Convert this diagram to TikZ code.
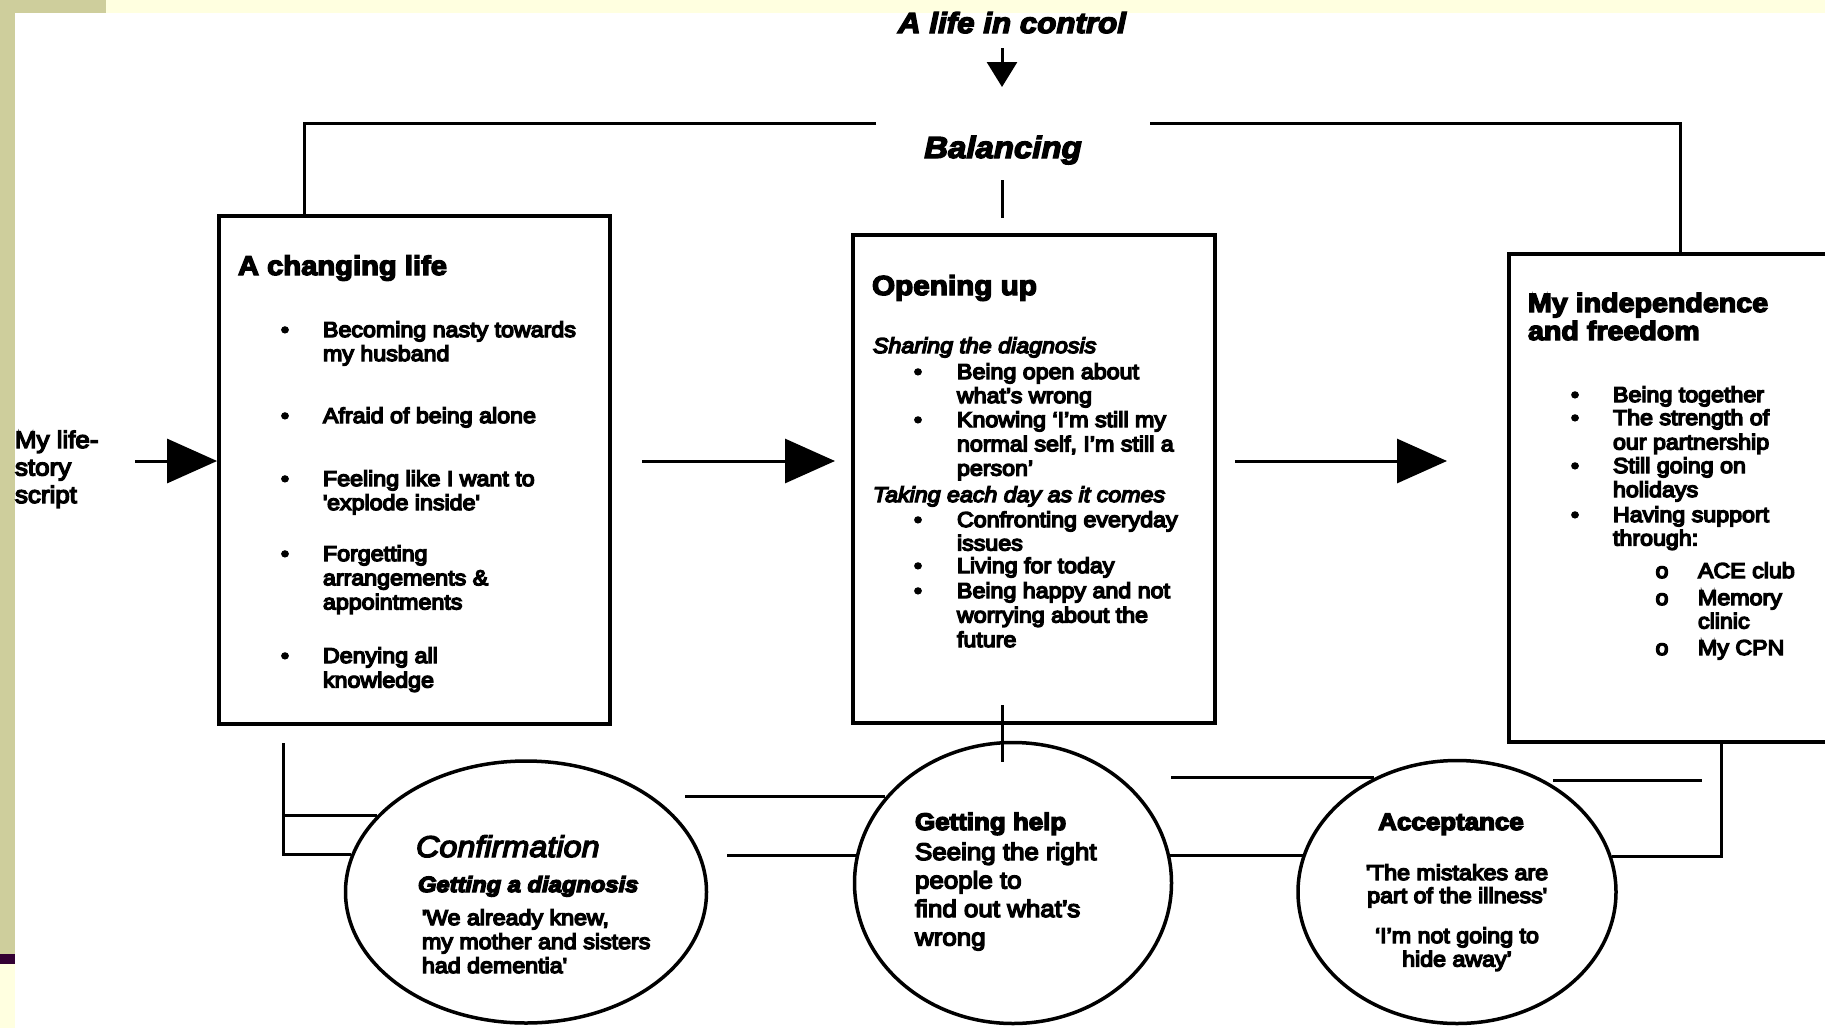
\documentclass[tikz,border=0pt]{standalone}
\usepackage{fontspec}
\setmainfont{Liberation Sans}[FakeStretch=1.08]
\usetikzlibrary{shapes.geometric, arrows.meta}
\definecolor{olivebar}{RGB}{206,206,156}
\definecolor{paleyel}{RGB}{255,255,224}
\definecolor{darkpurp}{RGB}{51,0,51}
\newcommand{\myheavy}{\special{pdf:literal direct 2 Tr 1.4 w}}
\newcommand{\mytb}[3]{\parbox[t]{500pt}{\fontsize{#1}{#2}\selectfont #3}}
\newcommand{\mytc}[3]{\parbox[t]{400pt}{\centering\fontsize{#1}{#2}\selectfont #3}}
\begin{document}
\begin{tikzpicture}[x=1pt,y=-1pt,
  txt/.style={inner sep=0pt, outer sep=0pt, anchor=base west, execute at begin node=\myheavy},
  bul/.style={inner sep=0pt, anchor=base, font=\fontsize{21.5}{24}\selectfont, execute at begin node=\myheavy},
  box/.style={draw=black, line width=3.8pt, rectangle, inner sep=0pt, fill=white},
  ell/.style={draw=black, line width=3.5pt, ellipse, inner sep=0pt, fill=white},
  conn/.style={draw=black, line width=3pt},
  arr/.style={draw=black, line width=3pt, -{Triangle[length=50pt,width=44pt]}}
]
\useasboundingbox (0,0) rectangle (1825,1028);
\clip (0,0) rectangle (1825,1028);
% background
\fill[white] (0,0) rectangle (1825,1028);
\fill[paleyel] (0,0) rectangle (1825,13);
\fill[olivebar] (0,0) rectangle (106,13);
\fill[olivebar] (0,0) rectangle (15,954);
\fill[darkpurp] (0,954) rectangle (15,964);
\fill[paleyel] (0,964) rectangle (15,1028);

% top titles
\node[txt, anchor=base] (lic) at (1012,33) {\fontsize{29}{32}\selectfont\bfseries\itshape A life in control};
\node[txt, anchor=base] (bal) at (1003,158) {\fontsize{30.5}{33}\selectfont\bfseries\itshape Balancing};

% boxes
\node[box, minimum width=391pt, minimum height=508pt] (lbox) at (414.5,470) {};
\node[box, minimum width=362pt, minimum height=488pt] (mbox) at (1034,479) {};
\node[box, minimum width=391pt, minimum height=488pt] (rbox) at (1704.5,498) {};

% ellipses
\node[ell, minimum width=361pt, minimum height=262pt] (conf) at (526,892) {};
\node[ell, minimum width=317pt, minimum height=281pt] (help) at (1013,883) {};
\node[ell, minimum width=318pt, minimum height=263pt] (acc) at (1457,892) {};

% life story
\node[txt] (ls) at (15,448) {\mytb{24}{27.5}{My life-\\story\\script}};

% left box text
\node[txt] (lh) at (238,275) {\fontsize{27}{30}\selectfont\bfseries A changing life};
\node[bul] (lb1) at (285,337) {•};
\node[bul] (lb2) at (285,423) {•};
\node[bul] (lb3) at (285,486) {•};
\node[bul] (lb4) at (285,561) {•};
\node[bul] (lb5) at (285,663) {•};
\node[txt] (lt1) at (323,337) {\mytb{21.5}{24}{Becoming nasty towards\\my husband}};
\node[txt] (lt2) at (323,423) {\mytb{21.5}{24}{Afraid of being alone}};
\node[txt] (lt3) at (323,486) {\mytb{21.5}{24}{Feeling like I want to\\\textquotesingle explode inside\textquotesingle}};
\node[txt] (lt4) at (323,561) {\mytb{21.5}{24.2}{Forgetting\\arrangements \&\\appointments}};
\node[txt] (lt5) at (323,663) {\mytb{21.5}{24.5}{Denying all\\knowledge}};

% middle box text
\node[txt] (mh) at (872,295) {\fontsize{27.5}{30}\selectfont\bfseries Opening up};
\node[txt] (ms1) at (873,353) {\fontsize{21.5}{24}\selectfont\itshape Sharing the diagnosis};
\node[txt] (ms2) at (873,502) {\fontsize{21.5}{24}\selectfont\itshape Taking each day as it comes};
\node[bul] (mb1) at (918,379) {•};
\node[bul] (mb2) at (918,427) {•};
\node[bul] (mb3) at (918,527) {•};
\node[bul] (mb4) at (918,573) {•};
\node[bul] (mb5) at (918,598) {•};
\node[txt] (mt1) at (957,379) {\mytb{21.5}{24}{Being open about\\what's wrong}};
\node[txt] (mt2) at (957,427) {\mytb{21.5}{24.3}{Knowing ‘I'm still my\\normal self, I'm still a\\person’}};
\node[txt] (mt3) at (957,527) {\mytb{21.5}{23.5}{Confronting everyday\\issues}};
\node[txt] (mt4) at (957,573) {\mytb{21.5}{24}{Living for today}};
\node[txt] (mt5) at (957,598) {\mytb{21.5}{24.5}{Being happy and not\\worrying about the\\future}};

% right box text
\node[txt] (rh) at (1528,312) {\mytb{26.5}{28}{\bfseries My independence\\and freedom}};
\node[bul] (rb1) at (1575,402) {•};
\node[bul] (rb2) at (1575,425) {•};
\node[bul] (rb3) at (1575,473) {•};
\node[bul] (rb4) at (1575,522) {•};
\node[txt] (rt1) at (1613,402) {\mytb{21.5}{24}{Being together}};
\node[txt] (rt2) at (1613,425) {\mytb{21.5}{24.5}{The strength of\\our partnership}};
\node[txt] (rt3) at (1613,473) {\mytb{21.5}{24}{Still going on\\holidays}};
\node[txt] (rt4) at (1613,522) {\mytb{21.5}{23.5}{Having support\\through:}};
\node[bul] (ro1) at (1662,578) {o};
\node[bul] (ro2) at (1662,605) {o};
\node[bul] (ro3) at (1662,655) {o};
\node[txt] (rs1) at (1698,578) {\mytb{21.5}{24}{ACE club}};
\node[txt] (rs2) at (1698,605) {\mytb{21.5}{23.5}{Memory\\clinic}};
\node[txt] (rs3) at (1698,655) {\mytb{21.5}{24}{My CPN}};

% ellipse texts
\node[txt] (ct1) at (416,857) {\fontsize{30}{33}\selectfont\itshape Confirmation};
\node[txt] (ct2) at (418,892) {\fontsize{22}{24}\selectfont\bfseries\itshape Getting a diagnosis};
\node[txt] (ct3) at (422,925) {\mytb{21.5}{24}{\textquotesingle We already knew,\\my mother and sisters\\had dementia\textquotesingle}};
\node[txt] (ht1) at (915,830) {\fontsize{24}{28}\selectfont\bfseries Getting help};
\node[txt] (ht2) at (915,860) {\mytb{24}{28.5}{Seeing the right\\people to\\find out what's\\wrong}};
\node[txt, anchor=base] (at1) at (1451,830) {\fontsize{24}{28}\selectfont\bfseries Acceptance};
\node[txt, anchor=base] (at2) at (1457,880) {\mytc{21.5}{23}{\textquotesingle The mistakes are\\part of the illness\textquotesingle}};
\node[txt, anchor=base] (at3) at (1457,943) {\mytc{21.5}{23.5}{‘I'm not going to\\hide away’}};

% connectors
\coordinate (ta1) at (1002,48);
\coordinate (ta2) at (1002,87);
\draw[line width=3pt, -{Triangle[length=25pt,width=30pt]}] (ta1) -- (ta2);

\coordinate (bl) at (876,123);
\coordinate (br) at (1150,123);
\draw[conn] (bl) -| ([xshift=-110.5pt]lbox.north);
\draw[conn] (br) -| ([xshift=-24.5pt]rbox.north);
\coordinate (bv1) at (1002,180);
\coordinate (bv2) at (1002,218);
\draw[conn] (bv1) -- (bv2);

\coordinate (a1) at (135,461);
\draw[arr] (a1) -- (a1 -| lbox.west);
\coordinate (a2s) at (642,461);
\coordinate (a2e) at (835,461);
\draw[arr] (a2s) -- (a2e);
\coordinate (a3s) at (1235,461);
\coordinate (a3e) at (1447,461);
\draw[arr] (a3s) -- (a3e);

\coordinate (mv1) at (1002,705);
\coordinate (mv2) at (1002,762);
\draw[conn] (mv1) -- (mv2);

\coordinate (lb) at (283,743);
\draw[conn] (lb) |- (conf.168);
\draw[conn] (lb |- conf.153) -- (conf.153);

\coordinate (c1) at (685,0);
\draw[conn] (c1 |- help.146.5) -- (help.146.5);
\coordinate (c2) at (727,0);
\draw[conn] (c2 |- help.170) -- (help.170);
\draw[conn] (help.10) -- (help.10 -| acc.166.5);
\coordinate (c3) at (1171,0);
\draw[conn] (c3 |- acc.126.5) -- (acc.126.5);
\coordinate (c4) at (1553,780);
\coordinate (c5) at (1702,780);
\draw[conn] (c4) -- (c5);
\draw[conn] ([xshift=16.5pt]rbox.south) |- (acc.13.5);
\end{tikzpicture}
\end{document}
